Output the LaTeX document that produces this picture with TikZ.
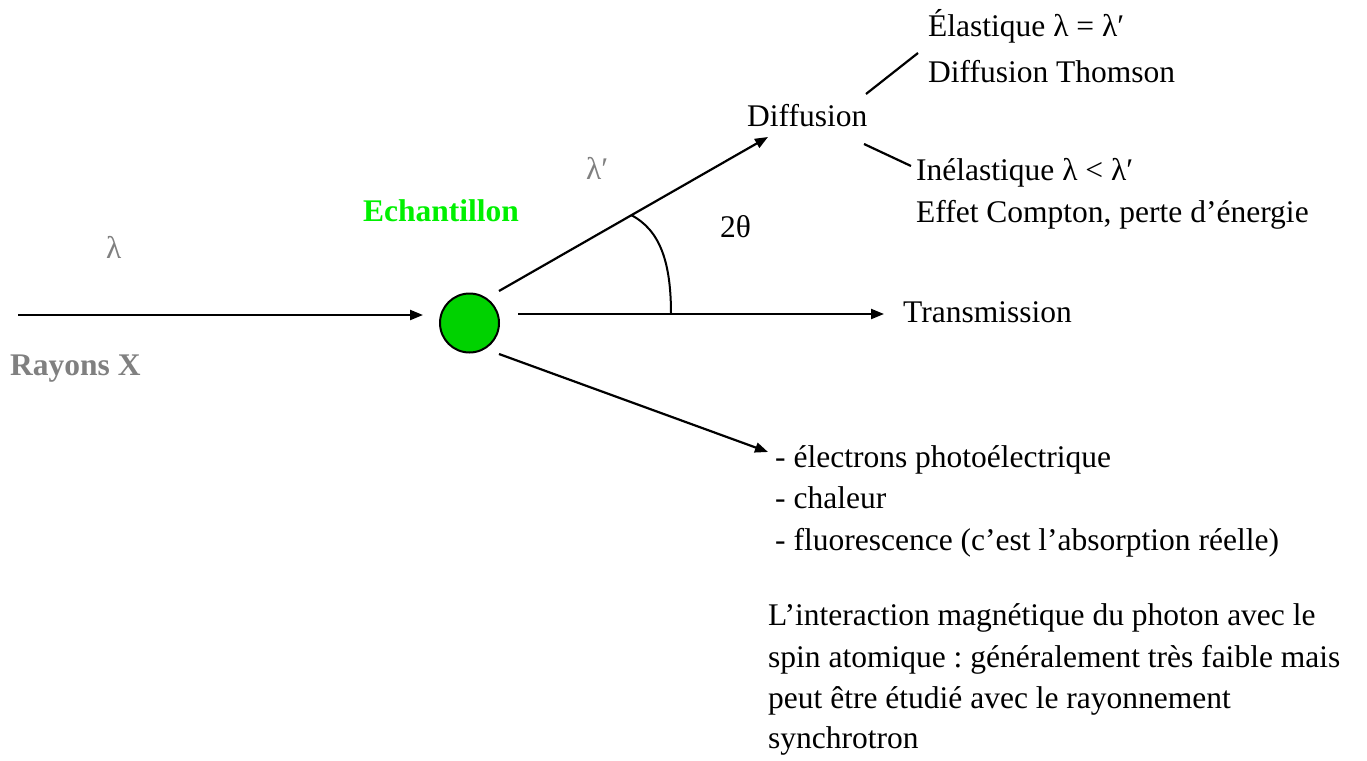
\documentclass[tikz,border=0pt]{standalone}
\usepackage{fontspec}
\setmainfont{Liberation Serif}
\usetikzlibrary{arrows.meta}
\definecolor{beamgray}{RGB}{128,128,128}
\definecolor{labelgreen}{RGB}{0,240,0}
\definecolor{samplegreen}{RGB}{0,210,0}
\frenchspacing
\begin{document}
\begin{tikzpicture}[x=1pt,y=-1pt,
  txt/.style={inner sep=0pt, anchor=base west, font=\fontsize{31.5}{41}\selectfont},
  boldtxt/.style={txt, font=\fontsize{31.5}{41}\selectfont\bfseries},
  ray/.style={line width=2.2pt, -{Triangle[length=13pt,width=10pt]}},
  branch/.style={line width=2.2pt},
  anglemark/.style={line width=2pt},
]
\useasboundingbox (0,0) rectangle (1367,760);

% sample
\node[circle, draw, line width=2pt, fill=samplegreen, minimum size=59pt, inner sep=0pt] (ech) at (469.5,323) {};

% ray end points
\coordinate (src) at (18,315);
\coordinate (inEnd) at (423,315);
\coordinate (trStart) at (518,314);
\coordinate (trEnd) at (884,314);
\coordinate (upStart) at (499,291);
\coordinate (upEnd) at (768,137);
\coordinate (lowStart) at (499,354);
\coordinate (lowEnd) at (768,452);
\coordinate (arcA) at (671,314);
\coordinate (arcB) at (631,215);
\coordinate (elA) at (866,94);
\coordinate (elB) at (918,53);
\coordinate (inA) at (864,144);
\coordinate (inB) at (911,166);

% beams
\draw[ray] (src) -- (inEnd);
\draw[ray] (trStart) -- (trEnd);
\draw[ray] (upStart) -- (upEnd);
\draw[ray] (lowStart) -- (lowEnd);
\draw[anglemark] (arcA) .. controls (671,262) and (660,230) .. (arcB);

% branches of the scattering
\draw[branch] (elA) -- (elB);
\draw[branch] (inA) -- (inB);

% labels
\node[txt, text=beamgray] (lam) at (106,258) {λ};
\node[boldtxt, text=beamgray] (rx) at (10,375) {Rayons X};
\node[boldtxt, text=labelgreen] (echlab) at (363,221) {Echantillon};
\node[txt, text=beamgray] (lamp) at (586,179) {λ′};
\node[txt] (theta) at (720,237) {2θ};
\node[txt] (diff) at (747,126) {Diffusion};
\node[txt] (el1) at (928,37) {Élastique λ = λ′};
\node[txt] (el2) at (928,82) {Diffusion Thomson};
\node[txt] (in1) at (916,180) {Inélastique λ < λ′};
\node[txt] (in2) at (916,222) {Effet Compton, perte d’énergie};
\node[txt] (trans) at (903,322) {Transmission};
\node[txt] (ab1) at (775,467) {- électrons photoélectrique};
\node[txt] (ab2) at (775,508) {- chaleur};
\node[txt] (ab3) at (775,550) {- fluorescence (c’est l’absorption réelle)};
\node[txt] (mag1) at (768,625) {L’interaction magnétique du photon avec le};
\node[txt] (mag2) at (768,667) {spin atomique : généralement très faible mais};
\node[txt] (mag3) at (768,708) {peut être étudié avec le rayonnement};
\node[txt] (mag4) at (768,748) {synchrotron};
\end{tikzpicture}
\end{document}
